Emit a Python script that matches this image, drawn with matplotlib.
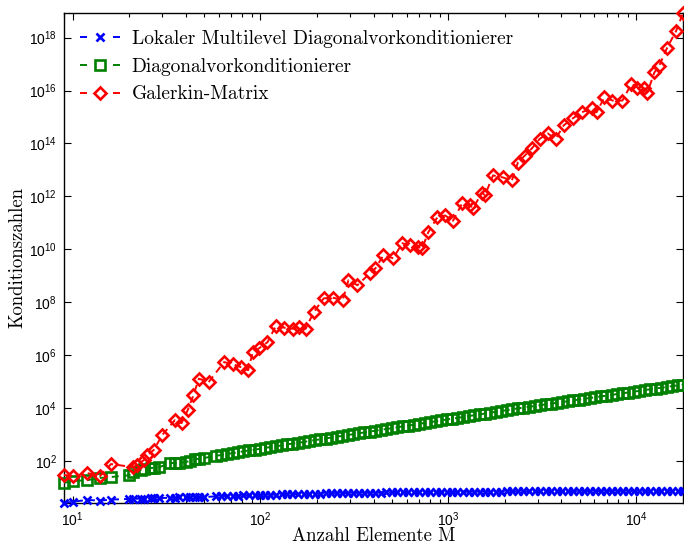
import matplotlib
matplotlib.use("Agg")
import matplotlib.pyplot as plt
from matplotlib.lines import Line2D
from matplotlib.ticker import LogLocator, FixedLocator, NullLocator, LogFormatterSciNotation, NullFormatter

plt.rcParams["font.family"] = ["Liberation Sans", "DejaVu Sans"]
plt.rcParams["mathtext.fontset"] = "custom"
plt.rcParams["mathtext.rm"] = "Liberation Sans"
plt.rcParams["mathtext.it"] = "Liberation Sans:italic"
plt.rcParams["mathtext.bf"] = "Liberation Sans:bold"

# Number of elements M (shared by the two preconditioned systems)
M = [9, 10, 12, 14, 16, 20, 21, 23, 24, 26, 27, 29, 33, 35, 37, 40, 42, 45, 47, 50,
     58, 62, 66, 71, 76, 81, 87, 93, 99, 106, 113, 121, 130, 139, 148, 159, 170, 182,
     194, 208, 222, 238, 254, 272, 291, 311, 333, 356, 381, 407, 436, 466, 499, 533,
     571, 610, 653, 698, 747, 799, 855, 914, 978, 1046, 1119, 1197, 1281, 1370, 1466,
     1568, 1677, 1794, 1919, 2053, 2196, 2349, 2513, 2689, 2876, 3077, 3291, 3521,
     3766, 4029, 4310, 4610, 4932, 5276, 5644, 6037, 6458, 6909, 7391, 7906, 8457,
     9047, 9678, 10353, 11075, 11847, 12673, 13557, 14502, 15513, 16595, 17752]

# Condition numbers, local multilevel diagonal preconditioner
kappa_local = [2.6, 2.9, 3.4, 3.2, 3.5, 3.7, 3.7, 3.8, 3.8, 3.9, 3.9, 4.0, 4.1, 4.1, 4.2,
               4.2, 4.3, 4.3, 4.4, 4.4,
               4.6, 4.7, 4.8, 4.8, 4.9, 5.0, 5.0, 5.1, 5.2, 5.3, 5.3, 5.4, 5.5, 5.5,
               5.6, 5.7, 5.7, 5.8, 5.9, 5.9, 6.0, 6.0, 6.1, 6.1, 6.2, 6.2, 6.3, 6.3,
               6.3, 6.4, 6.4, 6.5, 6.5, 6.5, 6.6, 6.6, 6.6, 6.7, 6.7, 6.7, 6.8, 6.8,
               6.8, 6.8, 6.9, 6.9, 6.9, 6.9, 7.0, 7.0, 7.0, 7.0, 7.0, 7.1, 7.1, 7.1,
               7.1, 7.1, 7.2, 7.2, 7.2, 7.2, 7.2, 7.2, 7.3, 7.3, 7.3, 7.3, 7.3, 7.3,
               7.3, 7.4, 7.4, 7.4, 7.4, 7.4, 7.4, 7.4, 7.4, 7.5, 7.5, 7.5, 7.5, 7.5,
               7.5, 7.5]

# Condition numbers, diagonal preconditioner
kappa_diag = [15, 17.6, 19, 23, 25, 29, 38, 46, 50, 55, 55, 59, 84, 84, 84, 92, 100, 119,
              120, 130,
              158, 170, 182, 200, 214, 234, 251, 269, 288, 313, 339, 363, 389, 427, 457,
              490, 525, 575, 617, 661, 708, 776, 832, 891, 955, 1035, 1120, 1200, 1290,
              1400, 1510, 1620, 1740, 1880, 2040, 2190, 2340, 2540, 2750, 2950, 3160,
              3430, 3720, 3980, 4270, 4620, 5010, 5370, 5750, 6240, 6760, 7240, 7760,
              8410, 9120, 9770, 10500, 11200, 12000, 12900, 13800, 14800, 15800, 17000,
              18200, 19500, 20900, 22400, 24000, 25700, 27500, 29500, 31600, 33900,
              36300, 38900, 41700, 44700, 47900, 51300, 55000, 58900, 63100, 67600,
              72400, 77600]

# Number of elements M and condition numbers of the unpreconditioned Galerkin matrix
M_galerkin = [9, 10, 12, 14, 16, 21, 22, 24, 25, 27, 30, 35, 38, 41, 44, 47, 53, 64, 71,
              79, 86, 91, 98, 109, 121, 133, 149, 160, 174, 192, 217, 242, 274, 294, 328,
              385, 409, 451, 509, 569, 627, 692, 726, 782, 873, 962, 1060, 1183, 1305,
              1353, 1510, 1567, 1729, 1953, 2180, 2345, 2555, 2783, 3067, 3380, 3730,
              4110, 4590, 5120, 5790, 6150, 6780, 7480, 8450, 9440, 10160, 11070, 11470,
              12500, 13280, 14630, 16330, 17752]
kappa_galerkin = [30, 27, 35, 27, 77, 59, 71, 110, 170, 260, 960, 3500, 2700, 8400,
                  3.1e4, 1.3e5, 9.6e4, 5.5e5, 4.6e5, 3.5e5, 2.7e5, 1.3e6, 1.8e6, 3.1e6,
                  1.3e7, 1.1e7, 1.0e7, 1.2e7, 1.0e7, 4.2e7, 1.4e8, 1.5e8, 1.2e8, 6.8e8,
                  4.4e8, 1.3e9, 1.9e9, 5.9e9, 4.6e9, 1.7e10, 1.4e10, 1.2e10, 1.1e10,
                  4.4e10, 1.6e11, 1.9e11, 1.2e11, 5.4e11, 4.6e11, 3.5e11, 1.4e12, 1.1e12,
                  6.2e12, 5.2e12, 4.0e12, 1.9e13, 3.5e13, 6.5e13, 1.5e14, 2.4e14, 1.5e14,
                  4.8e14, 8.8e14, 1.5e15, 2.1e15, 1.5e15, 5.5e15, 4.2e15, 4.2e15, 1.8e16,
                  1.3e16, 1.2e16, 8.4e15, 4.8e16, 8.8e16, 4.2e17, 1.8e18, 8.5e18]

labels = ["Lokaler Multilevel Diagonalvorkonditionierer",
          "Diagonalvorkonditionierer",
          "Galerkin-Matrix"]
colors = [(0, 0, 1), (0, 0.5, 0), (1, 0, 0)]
markers = ["x", "s", "D"]
msizes = [5.5, 6.5, 6.6]

serif = "cmr10"
lw = 1.4
dash = (0, (3.6, 2.6))

fig = plt.figure(figsize=(6.84, 5.44), dpi=100)
ax = fig.add_axes([64 / 684, 41 / 544, 619 / 684, 490 / 544])

series = [(M, kappa_local), (M, kappa_diag), (M_galerkin, kappa_galerkin)]
for (xs, ys), c, mk, ms in zip(series, colors, markers, msizes):
    ax.plot(xs, ys, color=c, lw=lw, ls=dash, marker=mk, ms=ms, mew=1.9,
            mfc="none", clip_on=False, zorder=3)

ax.set_xscale("log")
ax.set_yscale("log")
ax.set_xlim(min(M), max(M))
ax.set_ylim(min(kappa_local), max(kappa_galerkin))

ax.xaxis.set_major_locator(LogLocator(base=10))
ax.xaxis.set_minor_locator(LogLocator(base=10, subs=range(2, 10)))
ax.xaxis.set_minor_formatter(NullFormatter())
ax.yaxis.set_major_locator(FixedLocator([10.0 ** k for k in range(2, 19, 2)]))
ax.yaxis.set_minor_locator(NullLocator())
ax.xaxis.set_major_formatter(LogFormatterSciNotation())
ax.yaxis.set_major_formatter(LogFormatterSciNotation())

ax.tick_params(which="both", direction="in", top=True, right=True, labelsize=10,
               width=0.8)
ax.tick_params(which="major", length=5)
ax.tick_params(which="minor", length=3)
ax.tick_params(axis="x", pad=5)
ax.tick_params(axis="y", pad=5)
for s in ax.spines.values():
    s.set_linewidth(1.0)

ax.set_xlabel("Anzahl Elemente M", fontfamily=serif, fontsize=13.5, va="baseline")
ax.xaxis.set_label_coords(0.5, -0.0775)
ax.set_ylabel("Konditionszahlen", fontfamily=serif, fontsize=13.5)
ax.yaxis.set_label_coords(-0.06, 0.5)

# Legend entries: a short dash on each side of the marker
fs = 14
handle_pts = 40 * 72 / 100
handles = [Line2D([], [], color=c, lw=lw, marker=mk, ms=ms, mew=1.9, mfc="none",
                  ls=(0, (7 * 0.72 / lw, 26 * 0.72 / lw)))
           for c, mk, ms in zip(colors, markers, msizes)]
ax.legend(handles, labels, loc="upper left", frameon=False,
          prop={"family": serif, "size": fs},
          handlelength=handle_pts / fs, handletextpad=0.6, labelspacing=0.5,
          borderaxespad=0.0, borderpad=0.0, bbox_to_anchor=(16 / 619, 1 - 17 / 490))

fig.savefig("out.png", dpi=100)
